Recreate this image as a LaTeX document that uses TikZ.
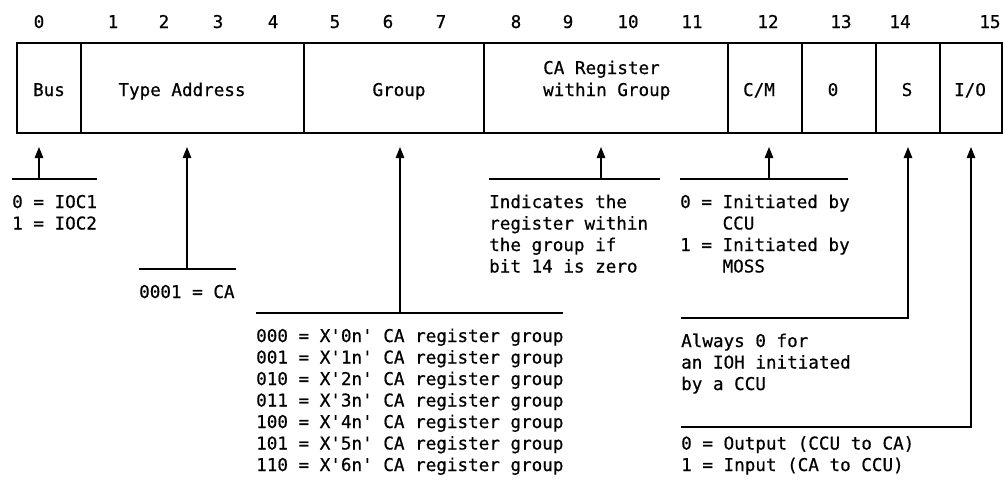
\documentclass[tikz,border=0pt]{standalone}
\usepackage{fontspec}
\setmonofont{DejaVu Sans Mono}[FakeBold=0.6]
\usetikzlibrary{arrows.meta}
\tikzset{
  txt/.style={font=\ttfamily\fontsize{17.6pt}{21pt}\selectfont, inner sep=0pt, anchor=base west},
  ctxt/.style={txt, anchor=base},
  frame/.style={line width=1.2pt},
  leader/.style={line width=1.3pt},
  uparrow/.style={leader, -{Triangle[length=11pt,width=8.5pt]}},
}
\begin{document}
\begin{tikzpicture}[x=1pt,y=-1pt]
\useasboundingbox (0,0) rectangle (1004,482);
% bit numbers
\foreach \n/\x in {0/39,1/113,2/164,3/218,4/273,5/335,6/388,7/441,8/516,9/568,10/628,11/692,12/768,13/841,14/900,15/990}
  \node[ctxt] (b\n) at (\x,28) {\n};
% register frame
\draw[frame] (17,43) rectangle (1002,133);
\foreach \x in {81,304,484,728,802,876,940}
  \draw[frame] (\x,43) -- (\x,133);
% field labels
\node[ctxt] (lbus) at (49,96) {Bus};
\node[ctxt] (ltype) at (182,96) {Type Address};
\node[ctxt] (lgroup) at (399,96) {Group};
\node[txt] (lca1) at (543,74) {CA Register};
\node[txt] (lca2) at (543,96) {within Group};
\node[ctxt] (lcm) at (759,96) {C/M};
\node[ctxt] (lzero) at (833,96) {0};
\node[ctxt] (ls) at (907,96) {S};
\node[ctxt] (lio) at (970,96) {I/O};
% Bus
\coordinate (busT) at (39,147); \coordinate (busB) at (39,179);
\coordinate (busL) at (12,179); \coordinate (busR) at (97,179);
\draw[leader] (busL) -- (busR);
\draw[uparrow] (busB) -- (busT);
\node[txt] (bus1) at (12,208) {0 = IOC1};
\node[txt] (bus2) at (12,229.5) {1 = IOC2};
% Type address
\coordinate (tyT) at (187,147); \coordinate (tyB) at (187,269);
\coordinate (tyL) at (139,269); \coordinate (tyR) at (236,269);
\draw[leader] (tyL) -- (tyR);
\draw[uparrow] (tyB) -- (tyT);
\node[txt] (ty1) at (139,298) {0001 = CA};
% Group
\coordinate (grT) at (400,147); \coordinate (grB) at (400,313);
\coordinate (grL) at (256,313); \coordinate (grR) at (563,313);
\draw[leader] (grL) -- (grR);
\draw[uparrow] (grB) -- (grT);
\foreach \i/\c/\h in {0/000/0,1/001/1,2/010/2,3/011/3,4/100/4,5/101/5,6/110/6}
  \node[txt] (gr\i) at (256,342+21.5*\i) {\c{} = X'\h n' CA register group};
% CA register within group
\coordinate (caT) at (601,147); \coordinate (caB) at (601,179);
\coordinate (caL) at (489,179); \coordinate (caR) at (660,179);
\draw[leader] (caL) -- (caR);
\draw[uparrow] (caB) -- (caT);
\node[txt] (ca1) at (489,208) {Indicates the};
\node[txt] (ca2) at (489,229.5) {register within};
\node[txt] (ca3) at (489,251) {the group if};
\node[txt] (ca4) at (489,272.5) {bit 14 is zero};
% C/M
\coordinate (cmT) at (769,147); \coordinate (cmB) at (769,179);
\coordinate (cmL) at (680,179); \coordinate (cmR) at (848,179);
\draw[leader] (cmL) -- (cmR);
\draw[uparrow] (cmB) -- (cmT);
\node[txt] (cm1) at (680,208) {0 = Initiated by};
\node[txt] (cm2) at (722.4,229.5) {CCU};
\node[txt] (cm3) at (680,251) {1 = Initiated by};
\node[txt] (cm4) at (722.4,272.5) {MOSS};
% S
\coordinate (sT) at (908,147); \coordinate (sC) at (908,318); \coordinate (sL) at (681,318);
\draw[uparrow] (sL) -- (sC) -- (sT);
\node[txt] (s1) at (681,347) {Always 0 for};
\node[txt] (s2) at (681,368.5) {an IOH initiated};
\node[txt] (s3) at (681,390) {by a CCU};
% I/O
\coordinate (ioT) at (971,147); \coordinate (ioC) at (971,427); \coordinate (ioL) at (681,427);
\draw[uparrow] (ioL) -- (ioC) -- (ioT);
\node[txt] (io1) at (681,449.5) {0 = Output (CCU to CA)};
\node[txt] (io2) at (681,471) {1 = Input (CA to CCU)};
\end{tikzpicture}
\end{document}
